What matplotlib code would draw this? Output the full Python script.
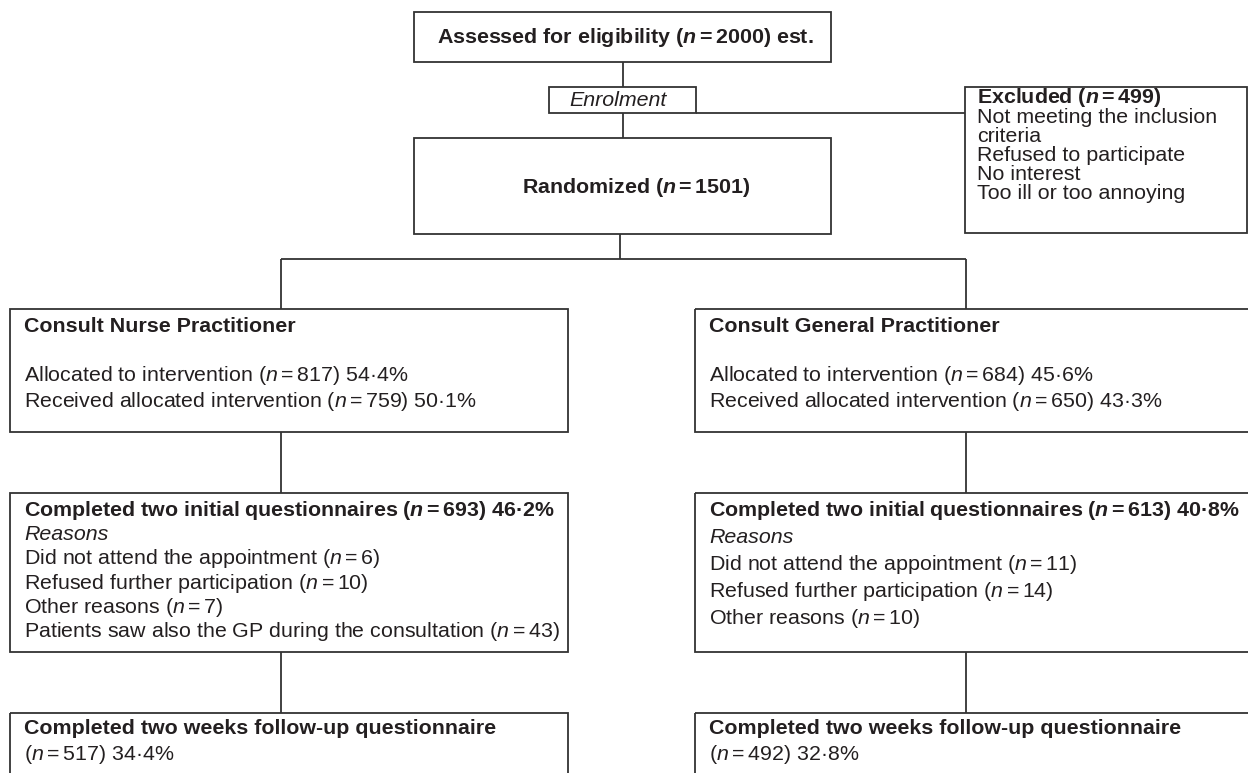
import matplotlib
matplotlib.use("Agg")
import matplotlib.pyplot as plt
from matplotlib.patches import Rectangle

plt.rcParams["font.family"] = ["Liberation Sans", "DejaVu Sans"]
plt.rcParams["mathtext.fontset"] = "custom"
plt.rcParams["mathtext.rm"] = "Liberation Sans"
plt.rcParams["mathtext.it"] = "Liberation Sans:italic"
plt.rcParams["mathtext.bf"] = "Liberation Sans:bold"
plt.rcParams["mathtext.default"] = "regular"
try:
    plt.rcParams["mathtext.bfit"] = "Liberation Sans:italic:bold"
except KeyError:
    pass

# text of the flow chart
top_text = "Assessed for eligibility (n=2000) est."
enrol_text = "Enrolment"
rand_text = "Randomized (n=1501)"
excl_title = "Excluded (n=499)"
excl_lines = ["Not meeting the inclusion", "criteria", "Refused to participate",
              "No interest", "Too ill or too annoying"]

arm_titles = ["Consult Nurse Practitioner", "Consult General Practitioner"]
allocated = [817, 684]
allocated_pct = ["54·4%", "45·6%"]
received = [759, 650]
received_pct = ["50·1%", "43·3%"]
completed = [693, 613]
completed_pct = ["46·2%", "40·8%"]
reasons = [
    [("Did not attend the appointment", 6), ("Refused further participation", 10),
     ("Other reasons", 7), ("Patients saw also the GP during the consultation", 43)],
    [("Did not attend the appointment", 11), ("Refused further participation", 14),
     ("Other reasons", 10)],
]
followup = [517, 492]
followup_pct = ["34·4%", "32·8%"]

W, H = 1248, 773
fig = plt.figure(figsize=(W / 100, H / 100), dpi=100)
ax = fig.add_axes([0, 0, 1, 1])
ax.set_xlim(0, W)
ax.set_ylim(H, 0)
ax.axis("off")

LC = "#333333"
TC = "#231f20"
FS = 15.4


def nfmt(s, bold=False):
    # italic n inside the text
    cmd = r"\mathbfit" if bold else r"\mathit"
    return s.replace("(n=", "($" + cmd + "{n}=$")


def box(x0, y0, x1, y1):
    ax.add_patch(Rectangle((x0, y0), x1 - x0, y1 - y0, fill=False, ec=LC, lw=1.3))


def line(xs, ys):
    ax.plot(xs, ys, color=LC, lw=1.3, solid_capstyle="butt")


def txt(x, y, s, bold=False, italic=False, ha="left"):
    ax.text(x, y + 7, nfmt(s, bold), fontsize=FS, color=TC, ha=ha, va="baseline",
            fontweight="bold" if bold else "normal",
            fontstyle="italic" if italic else "normal")


# top part
box(414, 12, 831, 62)
txt(625, 36, top_text, bold=True, ha="center")
line([623, 623], [62, 87])
box(549, 87, 696, 113)
txt(618, 99, enrol_text, italic=True, ha="center")
line([696, 965], [113, 113])
line([623, 623], [113, 138])
box(414, 138, 831, 234)
txt(636, 186, rand_text, bold=True, ha="center")
line([620, 620], [234, 259])

box(965, 87, 1247, 233)
txt(977, 96, excl_title, bold=True)
for i, s in enumerate(excl_lines):
    txt(977, 116 + 19 * i, s)

# branch
cx = [281, 966]
line([cx[0], cx[1]], [259, 259])
for c in cx:
    line([c, c], [259, 309])

lefts = [10, 695]
rights = [568, 1262]
for k in range(2):
    x0, x1 = lefts[k], rights[k]
    tx = x0 + 14
    box(x0, 309, x1, 432)
    txt(tx, 325, arm_titles[k], bold=True)
    txt(tx, 374, "Allocated to intervention (n=%d) %s" % (allocated[k], allocated_pct[k]))
    txt(tx, 400, "Received allocated intervention (n=%d) %s" % (received[k], received_pct[k]))
    line([cx[k], cx[k]], [432, 493])

    box(x0, 493, x1, 652)
    step = 24.2 if k == 0 else 26.9
    txt(tx, 509, "Completed two initial questionnaires (n=%d) %s" % (completed[k], completed_pct[k]), bold=True)
    txt(tx, 509 + step, "Reasons", italic=True)
    for i, (r, n) in enumerate(reasons[k]):
        txt(tx, 509 + step * (i + 2), "%s (n=%d)" % (r, n))
    line([cx[k], cx[k]], [652, 713])

    box(x0, 713, x1, 800)
    txt(tx, 727, "Completed two weeks follow-up questionnaire", bold=True)
    txt(tx, 753, "(n=%d) %s" % (followup[k], followup_pct[k]))

fig.savefig("out.png", dpi=100)
